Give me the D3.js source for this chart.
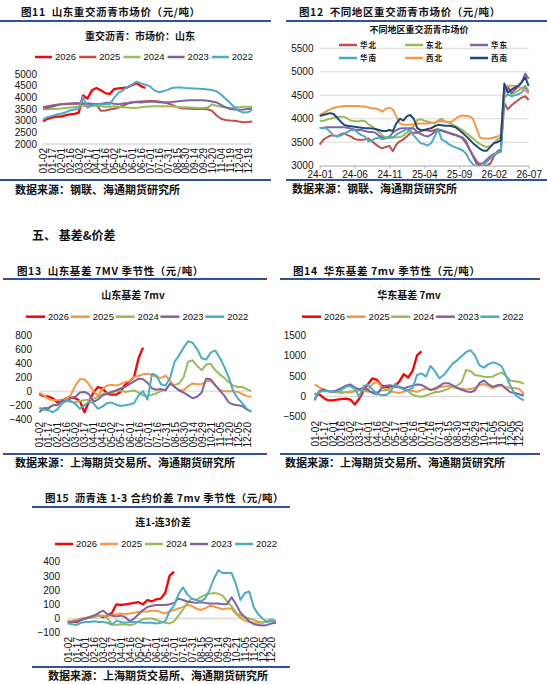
<!DOCTYPE html>
<html>
<head>
<meta charset="utf-8">
<script src="https://cdn.jsdelivr.net/npm/d3@7"></script>
<style>
  body { margin: 0; background: #fff; }
  svg { display: block; }
  .cn { font-family: "Noto Sans CJK SC", sans-serif; font-weight: bold; fill: #111; white-space: pre; }
  .num { font-family: "Liberation Sans", Arial, sans-serif; fill: #111; }
</style>
</head>
<body>
<svg id="page" width="547" height="684"></svg>
<script>
// ---------- data ----------
var yearNames = ["2026", "2025", "2024", "2023", "2022"];

// fig 11: Shandong heavy-traffic asphalt price, one value per half tick
var days11 = ["01-02","01-17","02-01","02-16","03-02","03-17","04-01","04-16","05-02","05-17","06-01","06-16","07-01","07-16","07-31","08-15","08-30","09-14","09-29","10-20","11-04","11-19","12-04","12-19"];
var yTicks11 = [2000, 2500, 3000, 3500, 4000, 4500, 5000];
var price2026 = [2980,3080,3130,3170,3170,3230,3270,3290,3330,4080,3950,4300,4400,4300,4180,4150,4350,4380,4400,4430,4520,4620,4480,4400];
var price2025 = [3580,3620,3650,3680,3700,3700,3710,3720,3720,3730,3720,3710,3680,3420,3440,3480,3510,3560,3650,3720,3780,3810,3820,3830,3840,3840,3820,3790,3740,3680,3590,3530,3520,3510,3500,3500,3500,3490,3420,3220,3080,3030,3010,3000,2960,2930,2940,2960];
var price2024 = [3480,3490,3500,3500,3520,3540,3560,3580,3600,3620,3640,3640,3640,3620,3600,3600,3620,3600,3580,3560,3540,3540,3580,3600,3610,3620,3620,3620,3620,3610,3600,3580,3570,3560,3550,3540,3540,3560,3700,3640,3600,3560,3540,3560,3580,3600,3600,3600];
var price2023 = [3550,3540,3600,3650,3700,3730,3740,3750,3760,3740,3740,3720,3700,3720,3760,3770,3720,3700,3740,3760,3790,3800,3780,3800,3820,3810,3790,3780,3790,3800,3820,3840,3860,3870,3880,3880,3870,3850,3820,3780,3680,3580,3500,3480,3470,3480,3500,3520];
var price2022 = [3050,3150,3200,3260,3300,3350,3440,3480,3500,4020,3560,3650,3680,3700,3700,3700,3980,4200,4300,4450,4550,4670,4600,4540,4480,4300,4220,4260,4320,4400,4420,4420,4400,4390,4380,4370,4360,4340,4310,4260,4120,3950,3770,3580,3420,3350,3360,3460];

// fig 12: regional prices, half-month steps from 24-01 to 26-07
var months12 = ["24-01","24-06","24-11","25-04","25-09","26-02","26-07"];
var yTicks12 = [3000, 3500, 4000, 4500, 5000, 5500];
var regionNames = ["华北", "东北", "华东", "华南", "西北", "西南"];
var huabei = [3450,3550,3600,3640,3650,3620,3670,3690,3650,3620,3570,3550,3550,3560,3580,3520,3460,3400,3370,3400,3420,3310,3450,3520,3560,3620,3690,3700,3700,3730,3760,3750,3740,3760,3780,3750,3730,3700,3670,3650,3620,3600,3520,3350,3200,3050,2990,2990,3000,3050,3200,3300,3350,4330,4200,4280,4340,4400,4450,4480,4400];
var dongbei = [3960,3950,3980,4000,4020,4040,4040,4040,4000,3960,3950,3940,3960,3950,3880,3840,3780,3720,3640,3600,3590,3600,3600,3610,3640,3700,3760,3850,3970,3990,3960,3940,3920,3900,3960,4000,3940,3920,3880,3840,3800,3760,3700,3640,3580,3520,3460,3420,3400,3420,3480,3560,3600,4500,4700,4520,4560,4600,4650,4700,4600];
var huadong = [3800,3810,3820,3820,3820,3820,3820,3820,3810,3790,3770,3760,3760,3740,3720,3720,3700,3640,3600,3580,3620,3700,3760,3790,3800,3800,3800,3790,3720,3680,3640,3620,3660,3720,3760,3750,3720,3700,3680,3660,3630,3580,3480,3350,3220,3100,3030,3060,3130,3200,3250,3270,3300,4650,4680,4550,4620,4680,4780,4960,4850];
var huanan = [3800,3810,3790,3720,3640,3620,3640,3680,3720,3760,3760,3700,3650,3620,3520,3540,3580,3600,3560,3590,3620,3600,3660,3700,3740,3780,3740,3640,3560,3480,3460,3430,3480,3620,3780,3560,3520,3460,3420,3390,3360,3330,3260,3120,3030,2990,2960,3000,3080,3160,3230,3280,3300,4450,4520,4480,4500,4520,4560,4680,4550];
var xibei = [4080,4120,4160,4200,4230,4250,4260,4270,4270,4270,4270,4270,4260,4260,4240,4220,4220,4200,4150,4220,4230,4200,4050,3900,3870,3870,3880,3880,3900,3900,3900,3900,3910,3920,3940,3950,3940,3930,3940,4000,4050,4070,4060,4050,4000,3800,3600,3580,3580,3580,3600,3620,3650,4650,4700,4700,4700,4680,4650,4600,4540];
var xinan = [4060,4080,4100,4120,4100,4020,3940,3870,3850,3840,3830,3820,3810,3800,3800,3790,3780,3760,3740,3740,3760,3740,3900,4000,3960,4050,4080,4000,3800,3760,3760,3780,3800,3840,3870,3860,3850,3850,3840,3820,3760,3700,3630,3560,3480,3420,3360,3320,3320,3400,3480,3500,3540,4750,4560,4620,4660,4700,4780,4880,4700];

// fig 13: Shandong basis 7mv
var days13 = ["01-02","01-17","02-01","02-16","03-02","03-17","04-01","04-16","05-02","05-17","06-01","06-16","07-01","07-16","07-31","08-15","08-30","09-14","09-29","10-21","11-05","11-20","12-05","12-20"];
var yTicks13 = [-400, -200, 0, 200, 400, 600, 800];
var sdBasis2026 = [-40,-70,-75,-100,-160,-140,-100,-90,-100,-140,-300,-150,-20,60,40,-30,-50,-50,-10,90,140,200,470,620];
var sdBasis2025 = [-20,-60,-110,-130,-130,-120,-110,-50,80,170,170,100,0,-60,30,80,90,80,100,130,140,200,220,240,250,230,200,190,220,150,60,20,10,70,110,100,100,140,150,80,20,0,0,0,-10,-40,-70,-80];
var sdBasis2024 = [-240,-260,-230,-200,-190,-170,-140,-150,-160,-140,-130,-120,-110,-80,-40,-30,-20,0,10,-10,0,10,-20,-60,-70,-50,-30,0,30,100,90,110,200,420,440,360,300,380,390,300,240,190,130,80,60,60,30,0];
var sdBasis2023 = [-300,-240,-250,-200,-200,-130,-140,-100,-80,-20,-10,-40,-150,-120,-60,-40,-10,10,40,60,100,140,180,170,120,40,20,30,10,110,60,10,-20,-60,-100,-80,-20,180,170,90,10,-60,-160,-190,-200,-210,-260,-290];
var sdBasis2022 = [-240,-260,-270,-300,-260,-180,-130,-140,-180,-250,-200,-150,-170,-250,-220,-170,-160,-190,-210,-200,-190,-170,-60,0,-120,250,220,100,80,190,420,510,620,710,690,600,470,450,550,580,480,350,200,0,-100,-170,-250,-290];

// fig 14: East China basis 7mv
var yTicks14 = [-500, 0, 500, 1000, 1500];
var hdBasis2026 = [60,50,-40,-100,-100,-80,-70,-60,-80,-200,-60,150,300,440,400,260,230,220,240,360,540,460,620,1000,1100];
var hdBasis2025 = [290,220,160,130,120,120,110,100,90,120,160,200,170,300,360,230,170,120,100,80,110,150,130,110,150,190,170,160,220,240,250,220,200,190,160,180,200,270,300,250,200,240,270,220,210,200,180,60];
var hdBasis2024 = [30,90,150,130,110,100,80,100,120,130,150,140,110,120,100,140,150,200,230,240,200,120,40,0,-10,20,60,100,110,140,180,240,260,340,640,620,520,500,480,470,480,540,580,500,380,370,350,310];
var hdBasis2023 = [-100,130,170,120,110,150,200,260,290,220,170,210,150,80,50,200,260,270,240,220,190,230,260,290,280,220,150,190,250,320,320,270,200,160,120,100,140,320,390,300,230,270,280,180,100,80,50,20];
var hdBasis2022 = [-60,120,120,130,110,120,160,230,250,180,-10,250,280,170,60,30,30,100,300,220,160,150,200,520,560,480,740,620,440,520,660,800,880,980,1080,1130,1000,760,700,780,830,800,740,500,250,50,-40,-100];

// fig 15: 1-3 month spread 7mv
var yTicks15 = [-100, 0, 100, 200, 300, 400];
var spread2026 = [-20,-20,-25,-10,0,10,20,20,10,20,40,100,95,100,105,110,115,100,130,120,135,140,180,300,330];
var spread2025 = [-20,-15,-10,0,5,10,15,15,20,20,25,30,35,30,35,40,45,50,50,55,55,45,35,50,60,70,80,95,90,70,60,70,90,85,75,65,70,70,30,5,-15,-25,-30,-30,-30,-20,-20,-20];
var spread2024 = [-25,-20,-15,-5,0,5,10,20,20,0,-40,-45,-40,-42,-45,-40,-20,-5,0,0,-10,-20,-30,-35,-20,20,60,110,140,130,150,165,175,180,175,160,120,85,40,20,10,0,-10,-20,-30,-15,-5,-20];
var spread2023 = [-30,-25,-20,-10,0,10,20,40,55,30,20,15,20,10,-20,0,30,60,80,90,95,95,95,100,110,140,130,120,115,110,115,110,105,105,105,100,100,150,100,40,10,-20,-40,-45,-50,-45,-35,-30];
var spread2022 = [-35,-40,-45,-30,-25,-25,-20,-25,-25,-30,-45,-15,-25,-30,-25,-25,-25,-30,-30,-30,-35,-30,-20,50,90,170,220,170,140,130,120,140,200,280,340,320,320,320,240,130,180,190,80,30,0,-25,-15,-20];

// ---------- drawing ----------
var svg = d3.select("#page");
var blue = "#2f5496";
var plain = d3.format("d");

function sepLine(x1, x2, y) {
  svg.append("line")
    .attr("x1", x1).attr("x2", x2)
    .attr("y1", y).attr("y2", y)
    .attr("stroke", blue)
    .attr("stroke-width", 2);
}

function cnText(x, y, size, str, anchor, spacing) {
  return svg.append("text")
    .attr("class", "cn")
    .attr("x", x).attr("y", y)
    .attr("text-anchor", anchor || "start")
    .style("font-size", size + "px")
    .style("letter-spacing", (spacing || 0) + "px")
    .text(str);
}

// seasonal chart: x is a half-tick index, labels sit on every second index
function seasonal(o) {
  var g = svg.append("g");
  var x = d3.scaleLinear().domain([0, 46]).range([o.x0, o.x0 + 46 * o.half]);
  var y = d3.scaleLinear().domain(o.yDomain).range([o.yBottom, o.yTop]);

  g.append("line")
    .attr("x1", x(0)).attr("x2", x(47))
    .attr("y1", y(o.base)).attr("y2", y(o.base))
    .attr("stroke", "#d9d9d9")
    .attr("stroke-width", 1.3);

  var yAxis = d3.axisLeft(y).tickValues(o.yTicks).tickFormat(plain).tickSize(0).tickPadding(0);
  g.append("g")
    .attr("transform", "translate(" + o.yLabelX + ",0)")
    .attr("font-family", "Liberation Sans, Arial, sans-serif")
    .attr("font-size", 8.5)
    .style("color", "#111")
    .call(yAxis)
    .call(function(a) { a.select(".domain").remove(); });

  var xAxis = d3.axisBottom(x)
    .tickValues(d3.range(0, o.days.length * 2, 2))
    .tickFormat(function(d) { return o.days[d / 2]; })
    .tickSize(0);
  g.append("g")
    .attr("transform", "translate(0," + o.labelTop + ")")
    .attr("font-family", "Liberation Sans, Arial, sans-serif")
    .attr("font-size", 8.5)
    .style("color", "#111")
    .call(xAxis)
    .call(function(a) { a.select(".domain").remove(); })
    .selectAll("text")
    .attr("transform", "rotate(-90)")
    .attr("x", 0).attr("y", 0)
    .attr("dy", "0.35em")
    .style("text-anchor", "end");

  var line = d3.line()
    .x(function(d, i) { return x(i); })
    .y(function(d) { return y(d); });

  o.series.forEach(function(s, i) {
    g.append("path")
      .datum(s)
      .attr("d", line)
      .attr("fill", "none")
      .attr("stroke", o.colors[i])
      .attr("stroke-width", i == 0 ? 2.3 : 2)
      .attr("stroke-linejoin", "round");
  });

  // legend
  yearNames.forEach(function(name, i) {
    var lx = o.legendX + i * o.legendStep;
    g.append("line")
      .attr("x1", lx).attr("x2", lx + o.legendLen)
      .attr("y1", o.legendY).attr("y2", o.legendY)
      .attr("stroke", o.colors[i])
      .attr("stroke-width", 2.5);
    g.append("text")
      .attr("class", "num")
      .attr("x", lx + o.legendLen + 3)
      .attr("y", o.legendY)
      .attr("dy", "0.35em")
      .style("font-size", "9.5px")
      .text(name);
  });
}

var colorsA = ["#ff0000", "#c0504d", "#9bbb59", "#8064a2", "#4bacc6"];
var colorsB = ["#ff0000", "#f79646", "#9bbb59", "#8064a2", "#4bacc6"];

// ---- fig 11 ----
cnText(21, 16, 10.5, "图11  山东重交沥青市场价（元/吨）", "start", 0.6);
sepLine(0, 271, 21);
cnText(140, 39.5, 10, "重交沥青：市场价：山东", "middle");
seasonal({
  x0: 43, half: 4.45, yDomain: [2000, 5000], yBottom: 144, yTop: 74, base: 2000,
  yTicks: yTicks11, yLabelX: 37, days: days11, labelTop: 148,
  series: [price2026, price2025, price2024, price2023, price2022], colors: colorsA,
  legendX: 35, legendStep: 44.2, legendLen: 17, legendY: 57
});
sepLine(0, 271, 180);
cnText(15, 194, 11, "数据来源：钢联、海通期货研究所");

// ---- fig 12 ----
cnText(299, 16, 10.5, "图12  不同地区重交沥青市场价（元/吨）", "start", 0.6);
sepLine(286, 547, 21);
cnText(419, 33, 9, "不同地区重交沥青市场价", "middle");

(function() {
  var g = svg.append("g");
  var x = d3.scaleLinear().domain([0, 30]).range([319.7, 528.7]);
  var y = d3.scaleLinear().domain([3000, 5500]).range([165.7, 48.3]);
  var regionColors = ["#c0504d", "#9bbb59", "#8064a2", "#4bacc6", "#f79646", "#1f497d"];
  var regions = [huabei, dongbei, huadong, huanan, xibei, xinan];

  // grid
  g.selectAll(".grid")
    .data(yTicks12)
    .enter().append("line")
    .attr("x1", x(0)).attr("x2", x(30))
    .attr("y1", function(d) { return y(d); })
    .attr("y2", function(d) { return y(d); })
    .attr("stroke", "#d9d9d9")
    .attr("stroke-width", 1);

  var yAxis = d3.axisLeft(y).tickValues(yTicks12).tickFormat(plain).tickSize(0).tickPadding(0);
  g.append("g")
    .attr("transform", "translate(313.5,0)")
    .attr("font-family", "Liberation Sans, Arial, sans-serif")
    .attr("font-size", 7.5)
    .style("color", "#111")
    .call(yAxis)
    .call(function(a) { a.select(".domain").remove(); });

  var xAxis = d3.axisBottom(x)
    .tickValues(d3.range(0, 31, 5))
    .tickFormat(function(d) { return months12[d / 5]; })
    .tickSize(3)
    .tickPadding(2);
  g.append("g")
    .attr("transform", "translate(0," + y(3000) + ")")
    .attr("font-family", "Liberation Sans, Arial, sans-serif")
    .attr("font-size", 7.5)
    .style("color", "#111")
    .call(xAxis)
    .call(function(a) {
      a.select(".domain").attr("stroke", "#bfbfbf");
      a.selectAll(".tick line").attr("stroke", "#bfbfbf");
    });

  svg.append("clipPath").attr("id", "clip12")
    .append("rect")
    .attr("x", x(0) - 2).attr("y", y(5500))
    .attr("width", x(30) - x(0) + 4)
    .attr("height", y(3000) - y(5500));

  var line = d3.line()
    .x(function(d, i) { return x(i / 2); })
    .y(function(d) { return y(d); });

  var plot = g.append("g").attr("clip-path", "url(#clip12)");
  regions.forEach(function(r, i) {
    plot.append("path")
      .datum(r)
      .attr("d", line)
      .attr("fill", "none")
      .attr("stroke", regionColors[i])
      .attr("stroke-width", 2)
      .attr("stroke-linejoin", "round");
  });

  // legend, two rows of three
  var colX = [339, 405, 470];
  var rowY = [45, 58];
  regionNames.forEach(function(name, i) {
    var lx = colX[i % 3], ly = rowY[Math.floor(i / 3)];
    g.append("line")
      .attr("x1", lx).attr("x2", lx + 18)
      .attr("y1", ly).attr("y2", ly)
      .attr("stroke", regionColors[i])
      .attr("stroke-width", 2.5);
    g.append("text")
      .attr("class", "cn")
      .attr("x", lx + 21).attr("y", ly)
      .attr("dy", "0.35em")
      .style("font-size", "7.5px")
      .style("letter-spacing", "1px")
      .text(name);
  });
})();

sepLine(286, 547, 180);
cnText(292, 193, 11, "数据来源：钢联、海通期货研究所");

// section heading
cnText(32, 240, 12, "五、 基差&价差");

// ---- fig 13 ----
cnText(17, 275, 10.5, "图13  山东基差 7MV 季节性（元/吨）", "start", 0.6);
sepLine(3, 267, 279);
cnText(133, 299, 10, "山东基差 7mv", "middle");
seasonal({
  x0: 39.3, half: 4.51, yDomain: [-400, 800], yBottom: 419.3, yTop: 335, base: 0,
  yTicks: yTicks13, yLabelX: 32, days: days13, labelTop: 422,
  series: [sdBasis2026, sdBasis2025, sdBasis2024, sdBasis2023, sdBasis2022], colors: colorsB,
  legendX: 26, legendStep: 44.8, legendLen: 19, legendY: 316.7
});
sepLine(3, 267, 454);
cnText(15, 467, 11, "数据来源：上海期货交易所、海通期货研究所");

// ---- fig 14 ----
cnText(293, 275, 10.5, "图14  华东基差 7mv 季节性（元/吨）", "start", 0.6);
sepLine(280, 540, 279);
cnText(409, 299, 10, "华东基差 7mv", "middle");
seasonal({
  x0: 314.7, half: 4.45, yDomain: [-500, 1500], yBottom: 416.7, yTop: 335, base: 0,
  yTicks: yTicks14, yLabelX: 306, days: days13, labelTop: 421,
  series: [hdBasis2026, hdBasis2025, hdBasis2024, hdBasis2023, hdBasis2022], colors: colorsB,
  legendX: 302, legendStep: 44.6, legendLen: 19, legendY: 316.7
});
sepLine(280, 540, 454);
cnText(285, 467, 11, "数据来源：上海期货交易所、海通期货研究所");

// ---- fig 15 ----
cnText(45, 502, 10.5, "图15  沥青连 1-3 合约价差 7mv 季节性（元/吨）", "start", 0.4);
sepLine(32, 290, 507);
cnText(163, 526, 10, "连1-连3价差", "middle");
seasonal({
  x0: 67.7, half: 4.43, yDomain: [-100, 400], yBottom: 632.7, yTop: 561.7, base: 0,
  yTicks: yTicks15, yLabelX: 60, days: days13, labelTop: 637,
  series: [spread2026, spread2025, spread2024, spread2023, spread2022], colors: colorsB,
  legendX: 55, legendStep: 45, legendLen: 18, legendY: 544
});
sepLine(32, 290, 667);
cnText(48, 680, 11, "数据来源：上海期货交易所、海通期货研究所");
</script>
</body>
</html>
